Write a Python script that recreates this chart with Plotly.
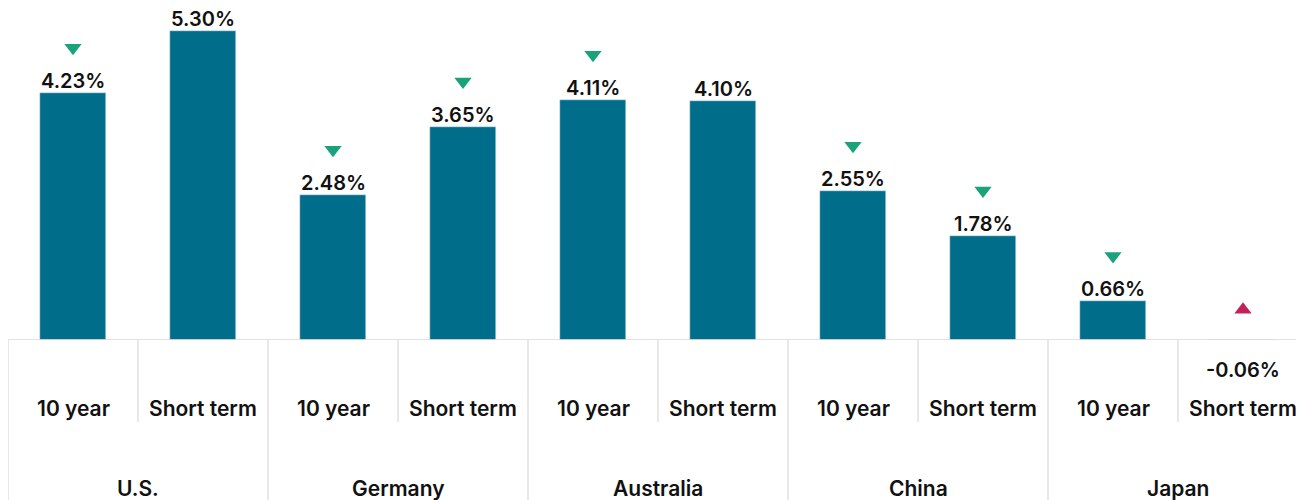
import plotly.graph_objects as go

countries = ["U.S.", "Germany", "Australia", "China", "Japan"]
terms = ["10 year", "Short term"]
values = [4.23, 5.30, 2.48, 3.65, 4.11, 4.10, 2.55, 1.78, 0.66, -0.06]
arrows = ["down", None, "down", "down", "down", None, "down", "down", "down", "up"]

BAR = "#006E8A"
GREEN = "#1AA37A"
RED = "#C2215A"
GRID = "#D9D9D9"
TXT = "#111111"
FONT = "Inter"

W, H = 1296, 492
BASE = 332           # baseline, px from figure top
SLOT = 130.0         # px per category slot
PX_PER_UNIT = 58.35

n = len(values)
xs = list(range(n))
labels = [f"{v:.2f}%" for v in values]

fig = go.Figure()
fig.add_trace(go.Bar(x=xs, y=values, marker_color=BAR, width=0.51, hoverinfo="skip"))

ax_d, ay_d, ax_u, ay_u = [], [], [], []
for i, (v, a) in enumerate(zip(values, arrows)):
    if a == "down":
        ax_d.append(i); ay_d.append(v + 0.78)
    elif a == "up":
        ax_u.append(i); ay_u.append(max(v, 0) + 0.52)
fig.add_trace(go.Scatter(x=ax_d, y=ay_d, mode="markers",
                         marker=dict(symbol="triangle-down", size=15, color=GREEN), hoverinfo="skip"))
fig.add_trace(go.Scatter(x=ax_u, y=ay_u, mode="markers",
                         marker=dict(symbol="triangle-up", size=15, color=RED), hoverinfo="skip"))

vfont = dict(family=FONT, size=20, color=TXT, weight=600)
lfont = dict(family=FONT, size=21, color=TXT, weight=600)
annotations = []
for i, (v, t) in enumerate(zip(values, labels)):
    if v >= 0:
        annotations.append(dict(x=i, y=v, xref="x", yref="y", text=t, showarrow=False,
                                yanchor="bottom", yshift=-1, borderpad=0, font=vfont))
    else:
        annotations.append(dict(x=i, y=0, xref="x", yref="y", text=t, showarrow=False,
                                yanchor="middle", yshift=-30, borderpad=0, font=vfont))
    annotations.append(dict(x=i, y=0, xref="x", yref="y", text=terms[i % 2], showarrow=False,
                            yanchor="middle", yshift=-68, borderpad=0, font=lfont))
for g, c in enumerate(countries):
    annotations.append(dict(x=2 * g + 0.5, y=0, xref="x", yref="y", text=c, showarrow=False,
                            yanchor="middle", yshift=-148, borderpad=0, font=lfont))

PLOT_H = float(BASE)
shapes = []
for k in range(n + 1):
    xb = k - 0.5
    full = (k % 2 == 0)
    y1 = -(H - BASE) / PLOT_H if full else -82 / PLOT_H
    shapes.append(dict(type="line", xref="x", yref="paper", x0=xb, x1=xb, y0=0, y1=y1,
                       line=dict(color=GRID, width=1.2)))
shapes.append(dict(type="line", xref="paper", yref="y", x0=0, x1=1, y0=0, y1=0,
                   line=dict(color=GRID, width=1.5)))

fig.update_layout(
    width=W, height=H,
    margin=dict(l=0, r=0, t=0, b=H - BASE, pad=0),
    plot_bgcolor="white", paper_bgcolor="white",
    showlegend=False, bargap=0,
    xaxis=dict(range=[-0.5, -0.5 + W / SLOT], visible=False, fixedrange=True),
    yaxis=dict(range=[0, BASE / PX_PER_UNIT], visible=False, fixedrange=True),
    annotations=annotations, shapes=shapes,
)
fig.write_html("out.html")
